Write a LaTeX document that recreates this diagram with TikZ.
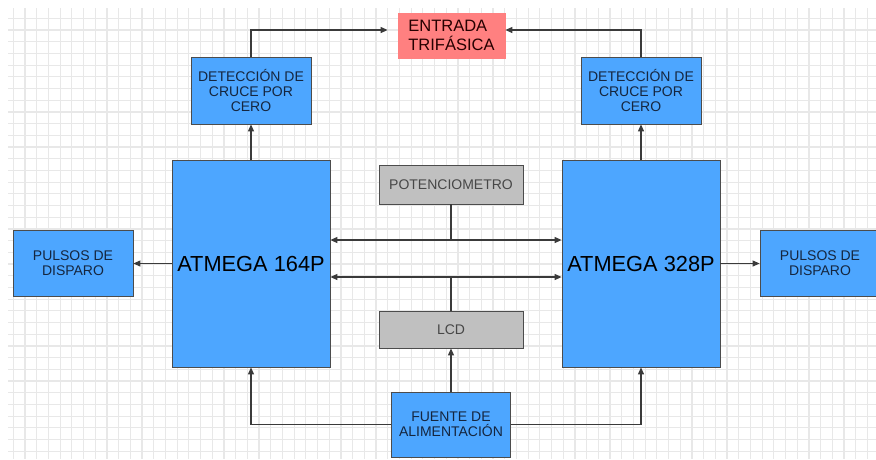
\documentclass[tikz,border=0pt]{standalone}
\usepackage{fontspec}
\setmainfont{Liberation Sans}
\usepackage{xcolor}
\usepackage{tikz}
\usetikzlibrary{arrows.meta}
\definecolor{cblue}{HTML}{4DA6FF}
\definecolor{cred}{HTML}{FF8080}
\definecolor{cgray}{HTML}{C0C0C0}
\definecolor{cline}{HTML}{3A3A3A}
\definecolor{cgrid}{HTML}{E8E8E8}
\definecolor{cnavy}{HTML}{15263F}
\tikzset{
  >={Triangle[length=7pt,width=6pt]},
  cgridline/.style={cgrid, line width=1.2pt},
  cblock/.style={rectangle, draw=black!70, fill=cblue, line width=0.8pt,
                 inner sep=0pt, align=center, text=cnavy,
                 font=\fontsize{14}{15}\selectfont},
  cmcu/.style={cblock, text=black, font=\fontsize{21.8}{24}\selectfont},
  cperiph/.style={cblock, fill=cgray, text=black!72},
  cinput/.style={cblock, fill=cred, draw=cred, text=black!85!red,
                 align=left, font=\fontsize{16.5}{19}\selectfont},
  cflow/.style={->, cline, line width=1.1pt},
  cbus/.style={<->, cline, line width=1.1pt},
  cwire/.style={cline, line width=1.1pt},
}

\begin{document}
\begin{tikzpicture}[x=1pt,y=-1pt]

  \clip (0,0) rectangle (876,459);
  \fill[white] (0,0) rectangle (876,459);
  \foreach \i in {0,...,73}
    \draw[cgridline] (13.3+11.7*\i,8) -- (13.3+11.7*\i,459);
  \foreach \j in {0,...,37}
    \draw[cgridline] (8,18.3+11.7*\j) -- (876,18.3+11.7*\j);

  \node[cinput, minimum width=107pt, minimum height=45pt] (entrada) at (451.5,35.5)
    {ENTRADA\\TRIFÁSICA};

  \node[cblock, minimum width=120pt, minimum height=67pt] (detL) at (251,90.5)
    {DETECCIÓN DE\\CRUCE POR\\CERO};
  \node[cblock, minimum width=120pt, minimum height=67pt] (detR) at (641,90.5)
    {DETECCIÓN DE\\CRUCE POR\\CERO};

  \node[cmcu, minimum width=158pt, minimum height=207pt] (atmL) at (251,263.5) {ATMEGA 164P};
  \node[cmcu, minimum width=158pt, minimum height=207pt] (atmR) at (641,263.5) {ATMEGA 328P};

  \node[cblock, minimum width=120pt, minimum height=66pt] (pulL) at (73,263.5) {PULSOS DE\\DISPARO};
  \node[cblock, minimum width=120pt, minimum height=66pt] (pulR) at (820,263.5) {PULSOS DE\\DISPARO};

  \node[cperiph, minimum width=144pt, minimum height=39pt] (pot) at (451,184.5) {POTENCIOMETRO};
  \node[cperiph, minimum width=144pt, minimum height=37pt] (lcd) at (451,329.5) {LCD};

  \node[cblock, minimum width=119pt, minimum height=65pt] (fuente) at (451,424.5)
    {FUENTE DE\\ALIMENTACIÓN};

  \coordinate (busP) at (451,240);
  \coordinate (busL) at (451,277);

  \draw[cflow, shorten >=10pt] (detL.north) |- ([yshift=5.5pt]entrada.west);
  \draw[cflow] (detR.north) |- ([yshift=5.5pt]entrada.east);
  \draw[cflow] (atmL.north) -- (detL.south);
  \draw[cflow] (atmR.north) -- (detR.south);
  \draw[cflow] (atmL.west) -- (pulL.east);
  \draw[cflow] (atmR.east) -- (pulR.west);

  \draw[cbus] (atmL.east |- busP) -- (atmR.west |- busP);
  \draw[cbus] (atmL.east |- busL) -- (atmR.west |- busL);
  \draw[cwire] (pot.south) -- (busP);
  \draw[cwire] (lcd.north) -- (busL);

  \draw[cflow] (fuente.north) -- (lcd.south);
  \draw[cflow] (fuente.west) -| (atmL.south);
  \draw[cflow] (fuente.east) -| (atmR.south);

\end{tikzpicture}
\end{document}
